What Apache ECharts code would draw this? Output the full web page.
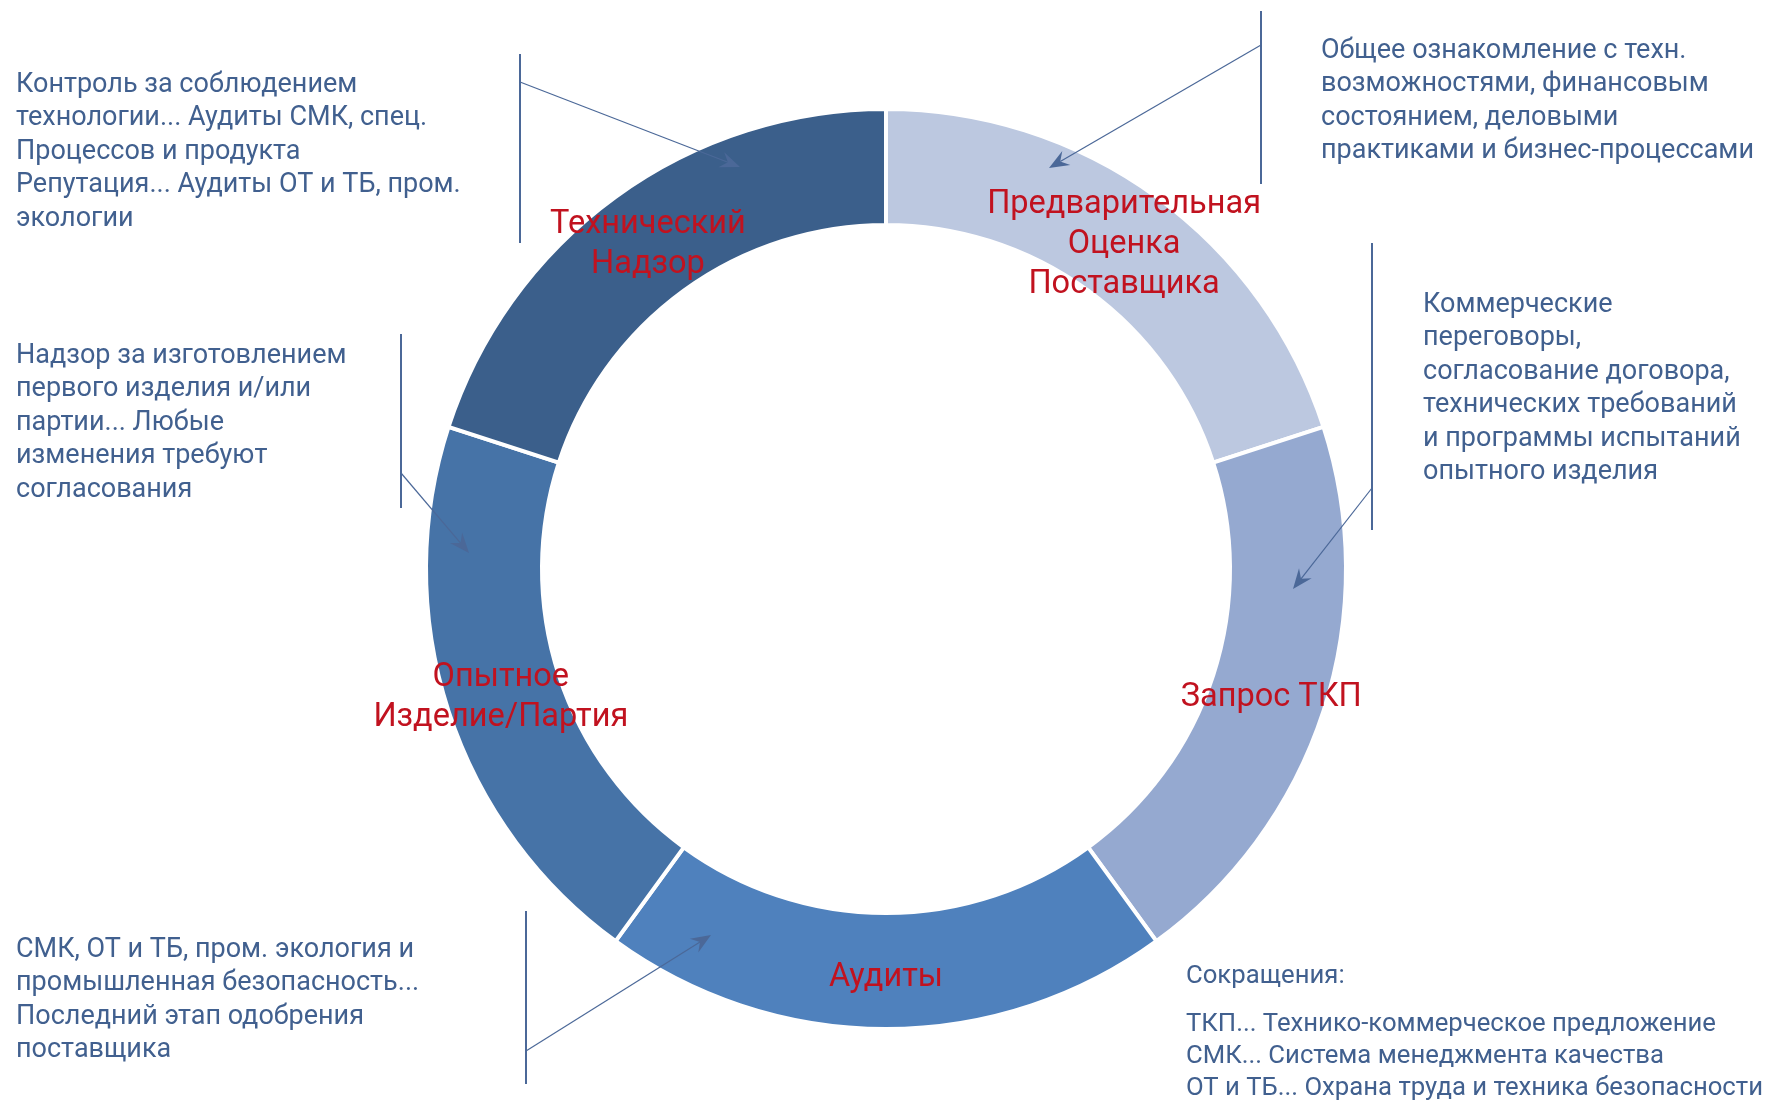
<!DOCTYPE html>
<html>
<head>
<meta charset="utf-8">
<script src="https://cdn.jsdelivr.net/npm/echarts@6/dist/echarts.min.js"></script>
<style>
html,body{margin:0;padding:0;background:#fff;}
#chart{width:1767px;height:1102px;}
</style>
</head>
<body>
<div id="chart"></div>
<script>
// ---- data ----
const categories = ['Предварительная\nОценка\nПоставщика', 'Запрос ТКП', 'Аудиты', 'Опытное\nИзделие/Партия', 'Технический\nНадзор'];
const values = [1, 1, 1, 1, 1];
const colors = ['#BCC8E0', '#95A9D0', '#4F81BD', '#4673A7', '#3B5F8B'];

const noteTechSupervision = 'Контроль за соблюдением\nтехнологии... Аудиты СМК, спец.\nПроцессов и продукта\nРепутация... Аудиты ОТ и ТБ, пром.\nэкологии';
const notePrototype = 'Надзор за изготовлением\nпервого изделия и/или\nпартии... Любые\nизменения требуют\nсогласования';
const noteAudits = 'СМК, ОТ и ТБ, пром. экология и\nпромышленная безопасность...\nПоследний этап одобрения\nпоставщика';
const notePreliminary = 'Общее ознакомление с техн.\nвозможностями, финансовым\nсостоянием, деловыми\nпрактиками и бизнес-процессами';
const noteRequest = 'Коммерческие\nпереговоры,\nсогласование договора,\nтехнических требований\nи программы испытаний\nопытного изделия';
const abbrevTitle = 'Сокращения:';
const abbrevLines = 'ТКП... Технико-коммерческое предложение\nСМК... Система менеджмента качества\nОТ и ТБ... Охрана труда и техника безопасности';

// ---- styles ----
const textColor = '#41608F';
const lineColor = '#4B6898';
const labelColor = '#C1121F';

function note(text, x, y, size, lh) {
  return { type: 'text', x: x, y: y, z: 100, silent: true,
    style: { text: text, font: (size || 27) + 'px Roboto', fill: textColor, textAlign: 'left', textVerticalAlign: 'top', lineHeight: lh || 33.5 } };
}
function vline(x, y1, y2) {
  return { type: 'line', z: 100, silent: true, shape: { x1: x, y1: y1, x2: x, y2: y2 }, style: { stroke: lineColor, lineWidth: 2 } };
}
function arrow(x1, y1, x2, y2) {
  const a = Math.atan2(y2 - y1, x2 - x1);
  const dx = Math.cos(a), dy = Math.sin(a), px = -dy, py = dx;
  const L = 20, W = 8, N = 13;
  const bx = x2 - L * dx, by = y2 - L * dy;
  const nx = x2 - N * dx, ny = y2 - N * dy;
  return [
    { type: 'line', z: 100, silent: true, shape: { x1: x1, y1: y1, x2: nx, y2: ny }, style: { stroke: lineColor, lineWidth: 1.2 } },
    { type: 'polygon', z: 100, silent: true, shape: { points: [[x2, y2], [bx + W * px, by + W * py], [nx, ny], [bx - W * px, by - W * py]] }, style: { fill: lineColor } }
  ];
}

const graphics = [
  note(noteTechSupervision, 16, 68),
  note(notePrototype, 16, 339),
  note(noteAudits, 16, 933),
  note(notePreliminary, 1321, 34),
  note(noteRequest, 1423, 288),
  note(abbrevTitle, 1186, 960, 25.7),
  note(abbrevLines, 1186, 1009, 25.7, 32)
  ,vline(520, 54, 243),
  vline(1261, 11, 184),
  vline(1372, 243, 530),
  vline(401, 334, 508),
  vline(526, 911, 1084)
].concat(
  arrow(520, 82, 740, 167),
  arrow(1261, 45, 1049, 168),
  arrow(1372, 488, 1293, 589),
  arrow(401, 473, 469, 553),
  arrow(526, 1051, 711, 935)
);

const chart = echarts.init(document.getElementById('chart'));
chart.setOption({
  backgroundColor: '#ffffff',
  animation: false,
  series: [{
    type: 'pie',
    center: [886, 569],
    radius: [344, 460],
    startAngle: 90,
    clockwise: true,
    silent: true,
    z: 2,
    data: categories.map((c, i) => ({ name: c, value: values[i], itemStyle: { color: colors[i] } })),
    itemStyle: { borderColor: '#ffffff', borderWidth: 4 },
    label: {
      show: true, position: 'inside', formatter: '{b}', offset: [0, 4],
      color: labelColor, fontFamily: 'Roboto', fontSize: 32.5, fontWeight: 'normal', lineHeight: 40
    },
    labelLine: { show: false },
    emphasis: { disabled: true }
  }],
  graphic: graphics
});
</script>
</body>
</html>
